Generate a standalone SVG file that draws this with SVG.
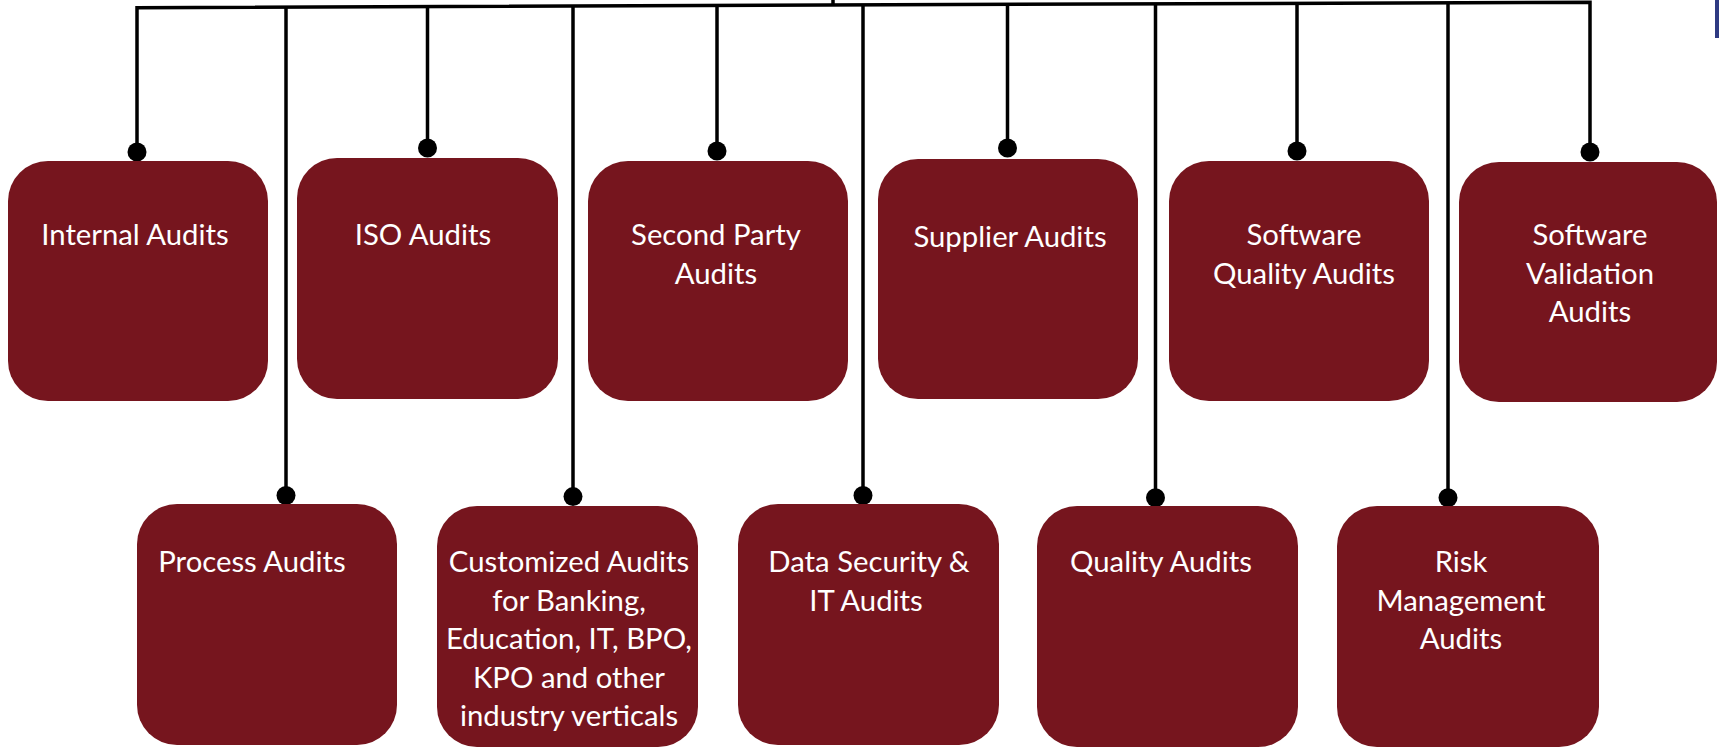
<svg xmlns="http://www.w3.org/2000/svg" width="1719" height="750" viewBox="0 0 1719 750">
  <style>
    .box { fill: #76151E; }
    .lbl { font-family: Lato, "Open Sans", "Liberation Sans", sans-serif; font-size: 29.3px; fill: #FFFFFF; text-anchor: middle; }
    .wire { fill: none; stroke: #000000; stroke-width: 3.5; stroke-linejoin: miter; }
    .dot { fill: #000000; }
  </style>
  <rect x="0" y="0" width="1719" height="750" fill="#FFFFFF"/>
  <rect x="1715" y="0" width="4" height="38" fill="#2E3A82"/>

  <g id="connectors">
    <path class="wire" d="M137,152 V7.7 L1590,2.2 V152"/>
    <path class="wire" d="M833,0 V5.1"/>
    <path class="wire" d="M286,7.1 V495.5"/>
    <path class="wire" d="M427.5,6.6 V148"/>
    <path class="wire" d="M573,6.05 V496.6"/>
    <path class="wire" d="M717,5.5 V151"/>
    <path class="wire" d="M863,5 V495.5"/>
    <path class="wire" d="M1007.5,4.4 V148"/>
    <path class="wire" d="M1155.5,3.85 V497.7"/>
    <path class="wire" d="M1297,3.3 V151"/>
    <path class="wire" d="M1448,2.7 V497.7"/>
    <circle class="dot" cx="137" cy="152" r="9.5"/>
    <circle class="dot" cx="427.5" cy="148" r="9.5"/>
    <circle class="dot" cx="717" cy="151" r="9.5"/>
    <circle class="dot" cx="1007.5" cy="148" r="9.5"/>
    <circle class="dot" cx="1297" cy="151" r="9.5"/>
    <circle class="dot" cx="1590" cy="152" r="9.5"/>
    <circle class="dot" cx="286" cy="495.5" r="9.5"/>
    <circle class="dot" cx="573" cy="496.6" r="9.5"/>
    <circle class="dot" cx="863" cy="495.5" r="9.5"/>
    <circle class="dot" cx="1155.5" cy="497.7" r="9.5"/>
    <circle class="dot" cx="1448" cy="497.7" r="9.5"/>
  </g>

  <g id="internal-audits">
    <rect class="box" x="8" y="161" width="260" height="240" rx="40"/>
    <text class="lbl" x="135" y="245">Internal Audits</text>
  </g>
  <g id="iso-audits">
    <rect class="box" x="297" y="158" width="261" height="241" rx="40"/>
    <text class="lbl" x="423" y="245">ISO Audits</text>
  </g>
  <g id="second-party-audits">
    <rect class="box" x="588" y="161" width="260" height="240" rx="40"/>
    <text class="lbl" x="716" y="245">Second Party</text>
    <text class="lbl" x="716" y="283.5">Audits</text>
  </g>
  <g id="supplier-audits">
    <rect class="box" x="878" y="159" width="260" height="240" rx="40"/>
    <text class="lbl" x="1010" y="247">Supplier Audits</text>
  </g>
  <g id="software-quality-audits">
    <rect class="box" x="1169" y="161" width="260" height="240" rx="40"/>
    <text class="lbl" x="1304" y="245">Software</text>
    <text class="lbl" x="1304" y="283.5">Quality Audits</text>
  </g>
  <g id="software-validation-audits">
    <rect class="box" x="1459" y="162" width="258" height="240" rx="40"/>
    <text class="lbl" x="1590" y="245">Software</text>
    <text class="lbl" x="1590" y="283.5">Validation</text>
    <text class="lbl" x="1590" y="322">Audits</text>
  </g>

  <g id="process-audits">
    <rect class="box" x="137" y="504" width="260" height="241" rx="40"/>
    <text class="lbl" x="252" y="572">Process Audits</text>
  </g>
  <g id="customized-audits">
    <rect class="box" x="437" y="506" width="261" height="241" rx="40"/>
    <text class="lbl" x="569" y="572">Customized Audits</text>
    <text class="lbl" x="569" y="610.5">for Banking,</text>
    <text class="lbl" x="569" y="649">Education, IT, BPO,</text>
    <text class="lbl" x="569" y="687.5">KPO and other</text>
    <text class="lbl" x="569" y="726">industry verticals</text>
  </g>
  <g id="data-security-it-audits">
    <rect class="box" x="738" y="504" width="261" height="241" rx="40"/>
    <text class="lbl" x="869" y="572">Data Security &amp;</text>
    <text class="lbl" x="866" y="610.5">IT Audits</text>
  </g>
  <g id="quality-audits">
    <rect class="box" x="1037" y="506" width="261" height="241" rx="40"/>
    <text class="lbl" x="1161" y="572">Quality Audits</text>
  </g>
  <g id="risk-management-audits">
    <rect class="box" x="1337" y="506" width="262" height="241" rx="40"/>
    <text class="lbl" x="1461" y="572">Risk</text>
    <text class="lbl" x="1461" y="610.5">Management</text>
    <text class="lbl" x="1461" y="649">Audits</text>
  </g>
</svg>
